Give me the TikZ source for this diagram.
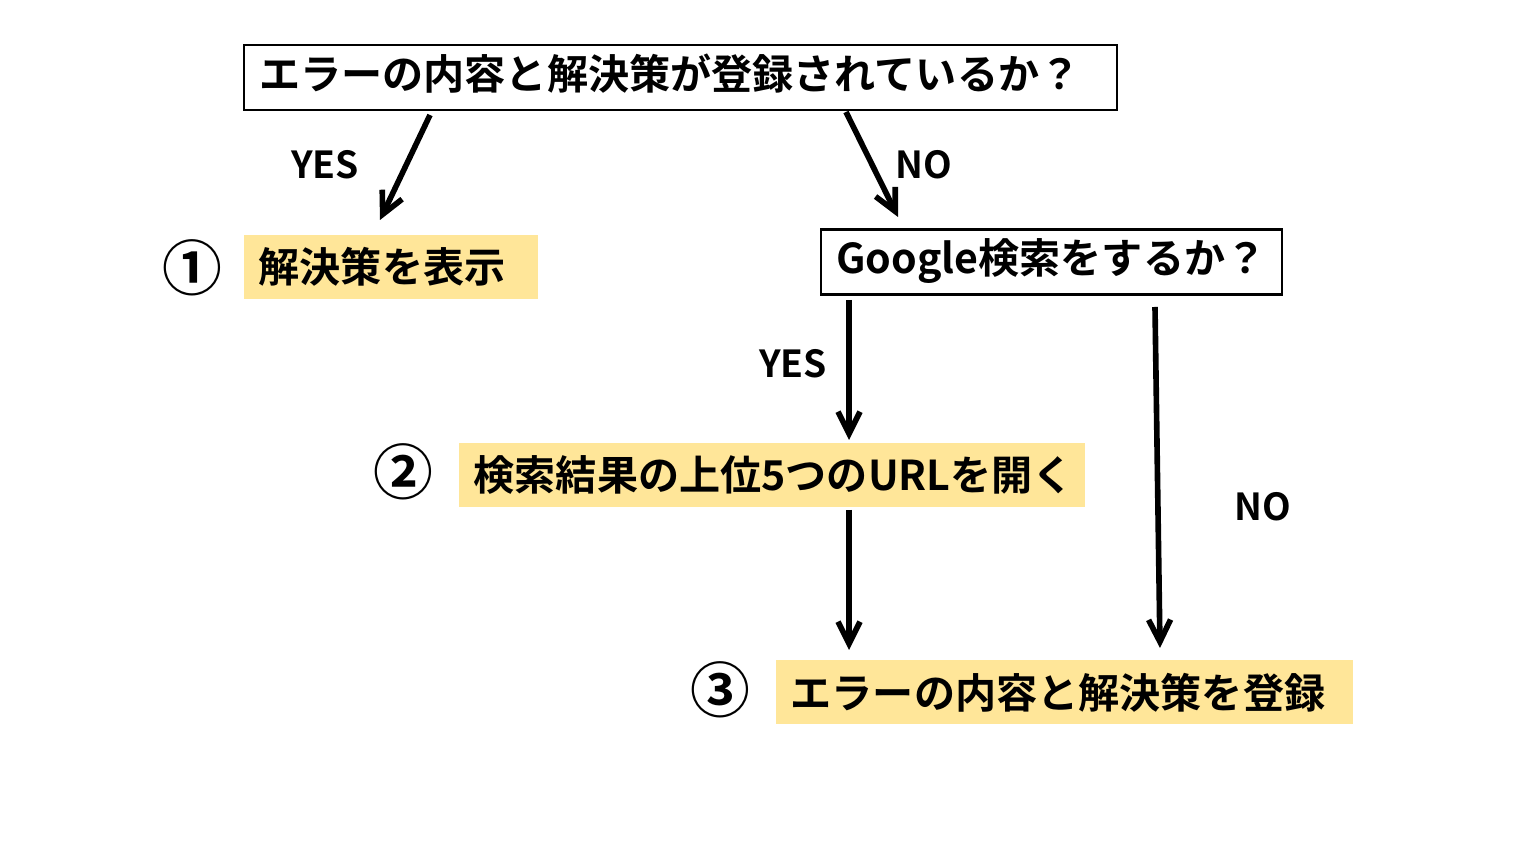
\documentclass[tikz,border=0pt]{standalone}
\usepackage{fontspec}
\setmainfont{Noto Sans CJK JP}[BoldFont={Noto Sans CJK JP Bold}]
\usetikzlibrary{arrows.meta}
\definecolor{hlyellow}{HTML}{FFE699}
\tikzset{
	qbox/.style={draw=black, line width=0.7pt, anchor=west, inner xsep=0.15cm, inner ysep=0pt, minimum height=0.65cm, text height=0.32cm, text depth=0.08cm, align=left, font=\fontsize{11.7pt}{14pt}\selectfont\bfseries},
	abox/.style={fill=hlyellow, anchor=west, inner xsep=0.15cm, minimum height=0.64cm, align=left, font=\fontsize{11.7pt}{14pt}\selectfont\bfseries},
	lbl/.style={font=\fontsize{10.6pt}{13pt}\selectfont\bfseries},
	num/.style={font=\fontsize{17pt}{20pt}\selectfont\bfseries},
	arr/.style={line width=1.6pt, -{Straight Barb[length=0.22cm,width=0.22cm,line width=1.6pt]}}
}
\begin{document}
\begin{tikzpicture}
	\useasboundingbox (0,0) rectangle (15.35,8.63);
	
	\node[qbox, text width=8.43cm] (q1) at (2.43,7.855) {エラーの内容と解決策が登録されているか？};
	\node[qbox, text width=4.31cm] (q2) at (8.20,6.01) {Google検索をするか？};
	
	\node[abox, text width=2.64cm] (a1) at (2.43,5.96) {解決策を表示};
	\node[abox, text width=5.96cm] (a2) at (4.58,3.88) {検索結果の上位5つのURLを開く};
	\node[abox, text width=5.47cm] (a3) at (7.75,1.705) {エラーの内容と解決策を登録};
	
	\node[num] (n1) at (1.92,5.95) {①};
	\node[num] (n2) at (4.03,3.91) {②};
	\node[num] (n3) at (7.20,1.73) {③};
	
	\coordinate (yes1a) at (4.30,7.48);
	\coordinate (yes1b) at (3.80,6.43);
	\coordinate (no1a) at (8.46,7.51);
	\coordinate (no1b) at (8.98,6.46);
	\coordinate (yes2a) at (8.49,5.63);
	\coordinate (yes2b) at (8.49,4.23);
	\coordinate (no2a) at (11.55,5.56);
	\coordinate (no2b) at (11.60,2.15);
	\coordinate (dwna) at (8.49,3.53);
	\coordinate (dwnb) at (8.49,2.13);
	
	\draw[arr] (yes1a) -- (yes1b);
	\draw[arr] (no1a) -- (no1b);
	\draw[arr] (yes2a) -- (yes2b);
	\draw[arr] (no2a) -- (no2b);
	\draw[arr] (dwna) -- (dwnb);
	
	\node[lbl] (y1) at (3.25,6.98) {YES};
	\node[lbl] (o1) at (9.24,6.98) {NO};
	\node[lbl] (y2) at (7.93,4.99) {YES};
	\node[lbl] (o2) at (12.63,3.56) {NO};
\end{tikzpicture}
\end{document}
